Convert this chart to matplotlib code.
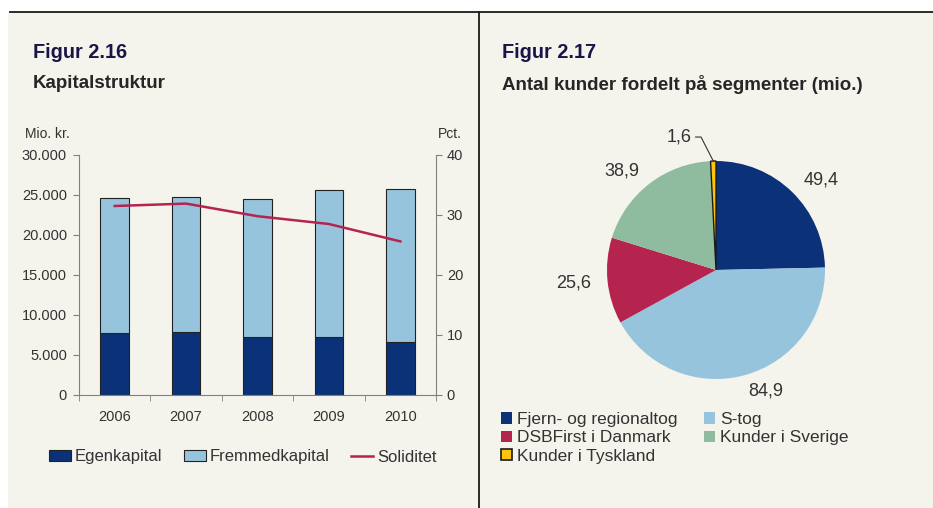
import numpy as np
import matplotlib.pyplot as plt
from matplotlib.patches import Patch, Rectangle
from matplotlib.lines import Line2D
from matplotlib.ticker import FuncFormatter, FixedLocator

plt.rcParams['font.family'] = ['Liberation Sans', 'DejaVu Sans']

# Data - figur 2.16
years = ['2006', '2007', '2008', '2009', '2010']
egenkapital = [7790, 7875, 7290, 7290, 6585]
fremmedkapital = [16800, 16835, 17170, 18380, 19125]
soliditet = [31.5, 31.9, 29.8, 28.5, 25.6]

# Data - figur 2.17
segments = ['Fjern- og regionaltog', 'S-tog', 'DSBFirst i Danmark',
            'Kunder i Sverige', 'Kunder i Tyskland']
kunder = [49.4, 84.9, 25.6, 38.9, 1.6]

bg = '#F4F3EC'
dark_blue = '#0B3278'
light_blue = '#97C4DD'
red = '#B5234F'
green = '#8FBC9F'
yellow = '#FFC20E'
txt = '#333333'
spine = '#808080'

W, H = 933, 508
fig = plt.figure(figsize=(W / 100, H / 100), dpi=100, facecolor=bg)

# white margins + frame lines
fig.patches.append(Rectangle((0, 0), 8 / W, 1, transform=fig.transFigure,
                             facecolor='white', edgecolor='none', zorder=0))
fig.patches.append(Rectangle((0, 1 - 12 / H), 1, 12 / H, transform=fig.transFigure,
                             facecolor='white', edgecolor='none', zorder=0))
fig.lines.append(Line2D([10 / W, 1], [1 - 12 / H, 1 - 12 / H], transform=fig.transFigure,
                        color='#1a1a1a', lw=1.3))
fig.lines.append(Line2D([479 / W, 479 / W], [0, 1 - 12 / H], transform=fig.transFigure,
                        color='#1a1a1a', lw=1.3))

# titles
fig.text(33 / W, 1 - 53 / H, 'Figur 2.16', fontsize=14.3, fontweight='bold',
         color='#1B1447', va='center', ha='left')
fig.text(33 / W, 1 - 84 / H, 'Kapitalstruktur', fontsize=13.5, fontweight='bold',
         color='#262626', va='center', ha='left')
fig.text(502 / W, 1 - 53 / H, 'Figur 2.17', fontsize=14.3, fontweight='bold',
         color='#1B1447', va='center', ha='left')
fig.text(502 / W, 1 - 84 / H, 'Antal kunder fordelt på segmenter (mio.)', fontsize=13.5,
         fontweight='bold', color='#262626', va='center', ha='left')

# ---- bar chart ----
ax = fig.add_axes([79 / W, 1 - 395 / H, 357 / W, 240 / H])
ax.set_facecolor('none')
x = np.arange(len(years))
ax.bar(x, egenkapital, width=0.4, color=dark_blue, edgecolor='#222222', lw=0.8, zorder=2)
ax.bar(x, fremmedkapital, width=0.4, bottom=egenkapital, color=light_blue,
       edgecolor='#222222', lw=0.8, zorder=2)
ax.set_xlim(-0.5, len(years) - 0.5)
ax.set_ylim(0, 30000)
ax.set_yticks(np.arange(0, 30001, 5000))
ax.yaxis.set_major_formatter(FuncFormatter(lambda v, p: f'{v:,.0f}'.replace(',', '.')))
ax.set_xticks(x)
ax.set_xticklabels(years)
ax.xaxis.set_minor_locator(FixedLocator(np.arange(-0.5, len(years), 1)))
ax.tick_params(axis='x', which='major', length=0, pad=10.5, labelsize=10.5, colors=txt)
ax.tick_params(axis='x', which='minor', length=4.3, direction='out', color=spine)
ax.tick_params(axis='y', length=4.3, direction='out', color=spine, labelsize=10.5,
               labelcolor=txt, pad=4.3)
for s in ['left', 'bottom']:
    ax.spines[s].set_color(spine)
ax.spines['top'].set_visible(False)
ax.spines['right'].set_visible(False)

ax2 = ax.twinx()
ax2.plot(x, soliditet, color=red, lw=1.8, zorder=3)
ax2.set_ylim(0, 40)
ax2.set_yticks(np.arange(0, 41, 10))
ax2.tick_params(axis='y', length=4.3, direction='out', color=spine, labelsize=10.5,
                labelcolor=txt, pad=3.5)
ax2.spines['right'].set_color(spine)
for s in ['left', 'top', 'bottom']:
    ax2.spines[s].set_visible(False)

fig.text(25 / W, 1 - 134 / H, 'Mio. kr.', fontsize=10, color=txt, va='center', ha='left')
fig.text(438 / W, 1 - 134 / H, 'Pct.', fontsize=10, color=txt, va='center', ha='left')

handles = [Patch(facecolor=dark_blue, edgecolor='#222222', lw=0.8),
           Patch(facecolor=light_blue, edgecolor='#222222', lw=0.8),
           Line2D([], [], color=red, lw=1.8)]
fig.legend(handles, ['Egenkapital', 'Fremmedkapital', 'Soliditet'], loc='center left',
           bbox_to_anchor=(49 / W, 1 - 457 / H), ncol=3, frameon=False, fontsize=12,
           handlelength=1.3, handleheight=0.6, handletextpad=0.25, columnspacing=1.3,
           borderpad=0, borderaxespad=0, labelcolor=txt)

# ---- pie chart ----
pc = [dark_blue, light_blue, red, green, yellow]
r = 109
pax = fig.add_axes([(716 - r) / W, 1 - (270 + r) / H, 2 * r / W, 2 * r / H])
labels = [f'{v:.1f}'.replace('.', ',') for v in kunder]
wedges, texts = pax.pie(kunder, colors=pc, startangle=90, counterclock=False,
                        labels=labels, labeldistance=1.15,
                        textprops=dict(fontsize=13, color=txt))
wedges[-1].set_edgecolor('#1a1a1a')
wedges[-1].set_linewidth(1.0)
texts[-1].set_visible(False)
w = wedges[-1]
mid = np.deg2rad((w.theta1 + w.theta2) / 2)
pax.annotate(labels[-1], xy=(np.cos(mid), np.sin(mid)), xytext=(-22, 24),
             textcoords='offset pixels', ha='right', va='center', fontsize=13, color=txt,
             arrowprops=dict(arrowstyle='-', color='#333333', lw=0.8,
                             connectionstyle='angle,angleA=0,angleB=117,rad=0',
                             shrinkA=1, shrinkB=0))
pax.set_xlim(-1, 1)
pax.set_ylim(-1, 1)
pax.set_aspect('equal', adjustable='box')
pax.axis('off')

ph = [Patch(facecolor=c, edgecolor='none') for c in pc[:4]]
ph.append(Patch(facecolor=yellow, edgecolor='#1a1a1a', lw=1.2))
order = [0, 2, 4, 1, 3]
fig.legend([ph[i] for i in order], [segments[i] for i in order], loc='upper left',
           bbox_to_anchor=(501 / W, 1 - 412 / H), ncol=2, frameon=False, fontsize=12.5,
           handlelength=0.62, handleheight=0.62, handletextpad=0.3, columnspacing=1.55,
           labelspacing=0.2, borderpad=0, borderaxespad=0, labelcolor=txt)

fig.savefig('out.png', dpi=100, facecolor=bg)
